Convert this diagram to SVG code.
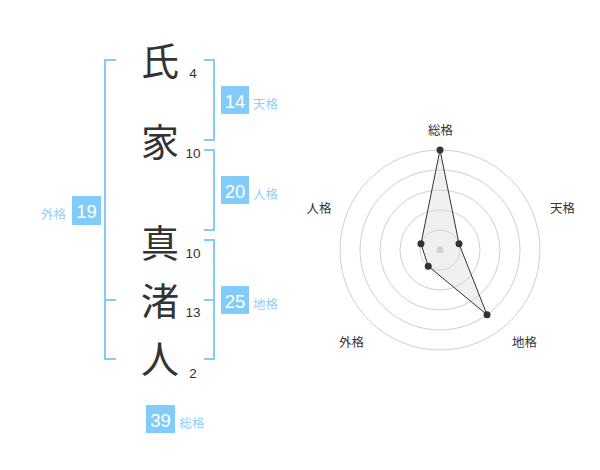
<svg xmlns="http://www.w3.org/2000/svg" width="600" height="470" viewBox="0 0 600 470">
<style>
.kanji{font-family:"Noto Sans CJK JP","Noto Sans CJK SC",sans-serif;font-size:38px;fill:#333;text-anchor:middle}
.cnt{font-family:"Liberation Sans",Arial,sans-serif;font-size:13.5px;fill:#333;text-anchor:middle}
.box{fill:#82cbfa}
.num{font-family:"Liberation Sans",Arial,sans-serif;font-size:18.5px;fill:#fff;text-anchor:middle}
.lbl{font-family:"Liberation Sans","Noto Sans CJK JP",sans-serif;font-size:12.5px;fill:#8fd0f7}
.br{fill:none;stroke:#82cbfa;stroke-width:2}
.ring{fill:none;stroke:#cfcfcf;stroke-width:1}
.axl{font-family:"Liberation Sans","Noto Sans CJK JP",sans-serif;font-size:12.5px;fill:#333;text-anchor:middle}
.dot{fill:#333}
</style>
<rect width="600" height="470" fill="#fff"/>
<g id="connectors">
<path class="br" d="M116,60 H105 V359 H116 M105,300 H116"/>
<path class="br" d="M204,60 H214 V140 H204"/>
<path class="br" d="M204,150 H214 V230 H204"/>
<path class="br" d="M204,240 H214 V359 H204 M204,300 H214"/>
</g>
<g id="char1"><text class="kanji" x="160" y="74.5">氏</text><text class="cnt" x="193" y="77.5">4</text></g>
<g id="char2"><text class="kanji" x="160" y="156">家</text><text class="cnt" x="193" y="158">10</text></g>
<g id="char3"><text class="kanji" x="160" y="257">真</text><text class="cnt" x="193" y="258">10</text></g>
<g id="char4"><text class="kanji" x="160" y="315">渚</text><text class="cnt" x="193" y="317">13</text></g>
<g id="char5"><text class="kanji" x="160" y="373">人</text><text class="cnt" x="193" y="378">2</text></g>
<g id="tenkaku"><rect class="box" x="221" y="86" width="28" height="28"/><text class="num" x="235" y="108.3">14</text><text class="lbl" x="253" y="109.3">天格</text></g>
<g id="jinkaku"><rect class="box" x="221" y="176" width="28" height="28"/><text class="num" x="235" y="198.3">20</text><text class="lbl" x="253" y="199.3">人格</text></g>
<g id="chikaku"><rect class="box" x="221" y="286" width="28" height="28"/><text class="num" x="235" y="308.3">25</text><text class="lbl" x="253" y="309.3">地格</text></g>
<g id="gaikaku"><rect class="box" x="72" y="196" width="29" height="29"/><text class="num" x="86.5" y="218.3">19</text><text class="lbl" x="41" y="219.3">外格</text></g>
<g id="soukaku"><rect class="box" x="146" y="405" width="29" height="28"/><text class="num" x="160.5" y="427.3">39</text><text class="lbl" x="179.5" y="428.3">総格</text></g>
<g id="radar">
<circle class="ring" cx="440" cy="250" r="20"/>
<circle class="ring" cx="440" cy="250" r="40"/>
<circle class="ring" cx="440" cy="250" r="60"/>
<circle class="ring" cx="440" cy="250" r="80"/>
<circle class="ring" cx="440" cy="250" r="100"/>
<circle cx="440" cy="250" r="3.5" fill="#cccccc"/>
<polygon points="440,150 459.02,243.82 487.02,314.72 428.24,266.18 420.98,243.82" fill="#d9d9d9" fill-opacity="0.4" stroke="#333" stroke-width="1"/>
<circle class="dot" cx="440" cy="150" r="3.5"/>
<circle class="dot" cx="459.02" cy="243.82" r="3.5"/>
<circle class="dot" cx="487.02" cy="314.72" r="3.5"/>
<circle class="dot" cx="428.24" cy="266.18" r="3.5"/>
<circle class="dot" cx="420.98" cy="243.82" r="3.5"/>
<text class="axl" x="440.5" y="134.5">総格</text>
<text class="axl" x="562.5" y="212.5">天格</text>
<text class="axl" x="524.5" y="347">地格</text>
<text class="axl" x="351.5" y="347">外格</text>
<text class="axl" x="319" y="212.5">人格</text>
</g>
</svg>
